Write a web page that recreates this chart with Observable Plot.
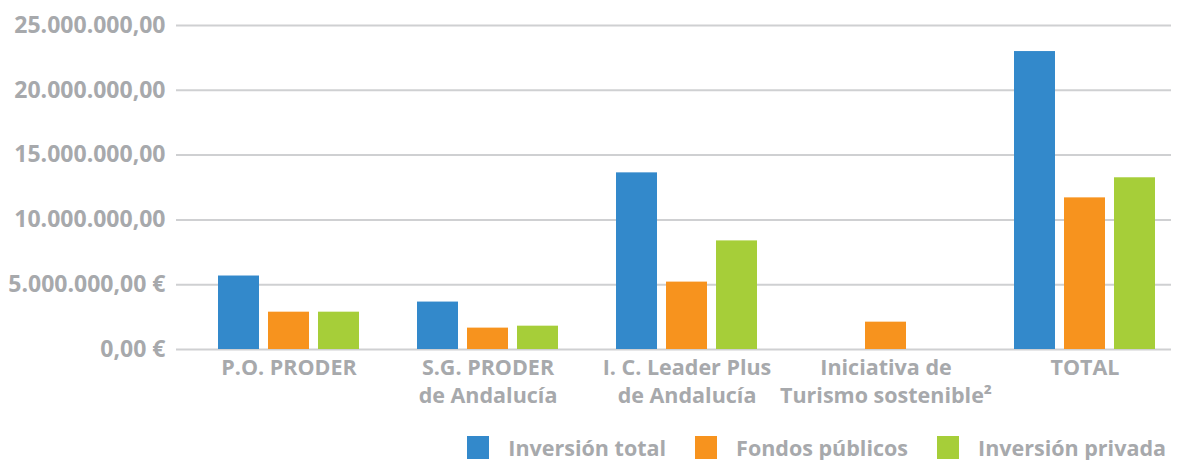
<!DOCTYPE html>
<html>
<head>
<meta charset="utf-8">
<script src="https://cdn.jsdelivr.net/npm/d3@7"></script>
<script src="https://cdn.jsdelivr.net/npm/@observablehq/plot@0.6"></script>
<style>
  html, body { margin: 0; padding: 0; background: #fff; }
  body { width: 1177px; height: 460px; overflow: hidden; font-family: "Open Sans", sans-serif; font-weight: 700; color: #a7a9ac; }
  #legend { position: relative; height: 40px; display: flex; justify-content: flex-end; align-items: center; padding-top: 7px; padding-right: 11px; font-size: 21.5px; }
  .item { display: flex; align-items: center; margin-left: 29px; }
  .sw { width: 22px; height: 23px; margin-right: 19px; }
</style>
</head>
<body>
<div id="chart"></div>
<div id="legend"></div>
<script>
const categories = ["P.O. PRODER", "S.G. PRODER\nde Andalucía", "I. C. Leader Plus\nde Andalucía", "Iniciativa de\nTurismo sostenible²", "TOTAL"];
const series = ["Inversión total", "Fondos públicos", "Inversión privada"];
const colors = ["#3389cb", "#f7931e", "#a6ce39"];
const inversionTotal = [5670000, 3660000, 13630000, null, 22990000];
const fondosPublicos = [2880000, 1650000, 5200000, 2110000, 11700000];
const inversionPrivada = [2880000, 1800000, 8380000, null, 13250000];
const yTicks = [0, 5000000, 10000000, 15000000, 20000000, 25000000];
const yTickLabels = ["0,00 €", "5.000.000,00 €", "10.000.000,00", "15.000.000,00", "20.000.000,00", "25.000.000,00"];

const seriesValues = [inversionTotal, fondosPublicos, inversionPrivada];
const data = [];
categories.forEach((c, i) => {
  series.forEach((s, j) => {
    const v = seriesValues[j][i];
    if (v != null) data.push({category: c, series: s, value: v});
  });
});

const chart = Plot.plot({
  width: 1177,
  height: 420,
  marginLeft: 175,
  marginRight: 5,
  marginTop: 25,
  marginBottom: 71,
  style: {fontFamily: "Open Sans, sans-serif", fontWeight: 700, color: "#a7a9ac", background: "#fff"},
  fx: {domain: categories, padding: 0, label: null},
  x: {domain: series, paddingInner: 0.19, paddingOuter: 0.569, align: 0.72, axis: null},
  y: {domain: [0, 25000000], label: null},
  color: {domain: series, range: colors},
  marks: [
    Plot.gridY(yTicks, {stroke: "#cfd0d2", strokeOpacity: 1, strokeWidth: 2}),
    Plot.axisY(yTicks, {tickSize: 0, tickPadding: 11, fontSize: 23, label: null, tickFormat: (d) => yTickLabels[yTicks.indexOf(d)]}),
    Plot.axisFx({anchor: "bottom", tickSize: 0, tickPadding: 6, fontSize: 21.5, label: null, dx: 13, lineHeight: 1.3}),
    Plot.barY(data, {fx: "category", x: "series", y: "value", fill: "series"})
  ]
});
document.getElementById("chart").appendChild(chart);

const legend = document.getElementById("legend");
series.forEach((s, j) => {
  const item = document.createElement("div");
  item.className = "item";
  const sw = document.createElement("div");
  sw.className = "sw";
  sw.style.background = colors[j];
  const t = document.createElement("span");
  t.textContent = s;
  item.appendChild(sw);
  item.appendChild(t);
  legend.appendChild(item);
});
</script>
</body>
</html>
